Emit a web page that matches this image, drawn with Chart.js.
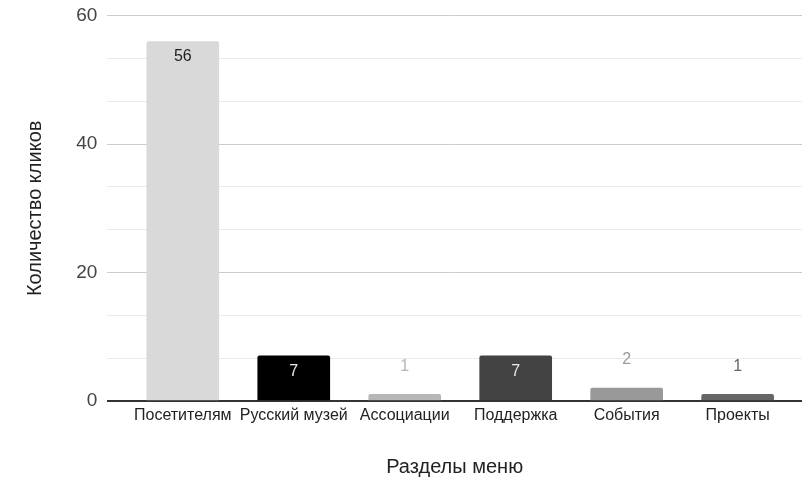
<!DOCTYPE html>
<html lang="ru">
<head>
<meta charset="utf-8">
<title>Клики по разделам меню</title>
<script src="https://cdn.jsdelivr.net/npm/chart.js@4/dist/chart.umd.min.js"></script>
<style>
  html, body { margin: 0; padding: 0; background: #ffffff; }
  #wrap { position: relative; width: 802px; height: 479px; }
</style>
</head>
<body>
<div id="wrap"><canvas id="chart"></canvas></div>
<script>
// Menu sections and the number of clicks each one received
const categories = ['Посетителям', 'Русский музей', 'Ассоциации', 'Поддержка', 'События', 'Проекты'];
const clicks = [56, 7, 1, 7, 2, 1];
const barColors = ['#d9d9d9', '#000000', '#b7b7b7', '#434343', '#999999', '#666666'];
const labelInsideColors = ['#222222', '#e8e8e8', '#222222', '#e8e8e8', '#222222', '#e8e8e8'];

// Labelled value-axis ticks; two unlabelled minor lines sit between each pair
const yMajorTicks = [0, 20, 40, 60];
const minorPerStep = 2;

const FONT = "'Liberation Sans', Arial, sans-serif";

function buildYTicks() {
  const ticks = [];
  for (let i = 0; i < yMajorTicks.length; i++) {
    ticks.push({ value: yMajorTicks[i], major: true });
    if (i < yMajorTicks.length - 1) {
      const step = (yMajorTicks[i + 1] - yMajorTicks[i]) / (minorPerStep + 1);
      for (let k = 1; k <= minorPerStep; k++) {
        ticks.push({ value: yMajorTicks[i] + step * k, major: false });
      }
    }
  }
  return ticks;
}

// Value labels: inside the bar near its top when it is tall enough, above it otherwise
const valueLabels = {
  id: 'valueLabels',
  afterDatasetsDraw(chart) {
    const ctx = chart.ctx;
    const meta = chart.getDatasetMeta(0);
    ctx.save();
    ctx.font = '16px ' + FONT;
    ctx.textAlign = 'center';
    ctx.textBaseline = 'middle';
    meta.data.forEach((bar, i) => {
      const height = bar.base - bar.y;
      const text = String(clicks[i]);
      if (height > 32) {
        ctx.fillStyle = labelInsideColors[i];
        ctx.fillText(text, bar.x, bar.y + 15.5);
      } else {
        ctx.fillStyle = barColors[i];
        ctx.fillText(text, bar.x, bar.y - 28);
      }
    });
    ctx.restore();
  }
};

new Chart(document.getElementById('chart'), {
  type: 'bar',
  data: {
    datasets: [{
      data: clicks.map((v, i) => ({ x: i, y: v })),
      backgroundColor: barColors,
      borderWidth: 0,
      borderRadius: { topLeft: 2, topRight: 2, bottomLeft: 0, bottomRight: 0 },
      borderSkipped: 'start',
      barThickness: 72
    }]
  },
  options: {
    responsive: true,
    maintainAspectRatio: false,
    animation: false,
    layout: { padding: { top: 0, right: 0, bottom: 0, left: 23.5 } },
    plugins: {
      legend: { display: false },
      tooltip: { enabled: false }
    },
    scales: {
      x: {
        type: 'linear',
        offset: false,
        min: -0.68,
        max: 5.58,
        afterBuildTicks(scale) {
          scale.ticks = categories.map((_, i) => ({ value: i }));
        },
        ticks: {
          autoSkip: false,
          maxRotation: 0,
          color: '#222222',
          font: { family: FONT, size: 16 },
          padding: 5.5,
          callback: (v) => categories[v]
        },
        grid: { display: false, drawTicks: false },
        border: { display: false },
        title: {
          display: true,
          text: 'Разделы меню',
          color: '#222222',
          font: { family: FONT, size: 20 },
          padding: { top: 24, bottom: 0 }
        }
      },
      y: {
        min: 0,
        max: 60,
        afterBuildTicks(scale) {
          scale.ticks = buildYTicks();
        },
        ticks: {
          autoSkip: false,
          color: '#444444',
          font: { family: FONT, size: 19, lineHeight: 0.62 },
          padding: 10,
          callback: (v) => (yMajorTicks.includes(v) ? String(v) : '')
        },
        grid: {
          drawTicks: false,
          color: (c) => c.tick && c.tick.value === 0 ? '#333333' : (c.tick && c.tick.major ? '#cccccc' : '#ebebeb'),
          lineWidth: (c) => c.tick && c.tick.value === 0 ? 2 : 1
        },
        border: { display: false },
        title: {
          display: true,
          text: 'Количество кликов',
          color: '#222222',
          font: { family: FONT, size: 20 },
          padding: { top: 0, bottom: 18.7 }
        }
      }
    }
  },
  plugins: [valueLabels]
});
</script>
</body>
</html>
